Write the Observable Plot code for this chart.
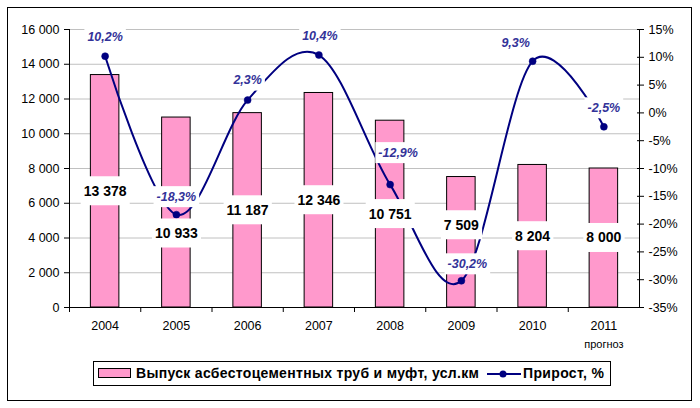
<!DOCTYPE html>
<html>
<head>
<meta charset="utf-8">
<script src="https://cdn.jsdelivr.net/npm/d3@7"></script>
<script src="https://cdn.jsdelivr.net/npm/@observablehq/plot@0.6"></script>
<style>
  body { margin: 0; background: #fff; }
  #wrap { position: relative; width: 700px; height: 408px; background: #fff;
          font-family: "Liberation Sans", Arial, sans-serif; }
  #wrap svg { position: absolute; left: 0; top: 0; }
  #frame { position: absolute; left: 7px; top: 7px; width: 685px; height: 394px;
           border: 1px solid #000; box-sizing: border-box; pointer-events: none; }
  #legend { position: absolute; left: 93px; top: 361px; width: 518px; height: 25px;
            border: 1px solid #000; box-sizing: border-box; background: #fff;
            font-weight: bold; font-size: 14px; color: #000; white-space: nowrap; }
  #legend .sw { position: absolute; left: 4px; top: 6px; width: 33px; height: 10px;
                box-sizing: border-box; border: 1px solid #000; background: #ff99cc; }
  #legend .t1 { position: absolute; left: 42px; top: 3px; }
  #legend svg.ls { position: absolute; left: 393px; top: 5px; }
  #legend .t2 { position: absolute; left: 429px; top: 3px; }
</style>
</head>
<body>
<div id="wrap"><div id="frame"></div></div>
<script>
// ---- data ----
const years = ["2004", "2005", "2006", "2007", "2008", "2009", "2010", "2011"];
const output = [13378, 10933, 11187, 12346, 10751, 7509, 8204, 8000];
const growth = [10.2, -18.3, 2.3, 10.4, -12.9, -30.2, 9.3, -2.5];
const leftTicks = [0, 2000, 4000, 6000, 8000, 10000, 12000, 14000, 16000];
const rightTicks = [-35, -30, -25, -20, -15, -10, -5, 0, 5, 10, 15];
const seriesNames = ["Выпуск асбестоцементных труб и муфт, усл.км", "Прирост, %"];
const forecastNote = "прогноз";

// ---- layout ----
const W = 700, H = 408;
const mL = 69, mR = 61, mT = 29, mB = 101;
const step = (W - mL - mR) / years.length;
const yMax = 16000, pMin = -35, pMax = 15;
const toY = p => (p - pMin) / (pMax - pMin) * yMax;
const fromY = v => Math.round(v / yMax * (pMax - pMin) + pMin);
const fmtK = v => d3.format(",")(v).replace(/,/g, "\u00a0");
const fmtPct = p => p.toFixed(1).replace(".", ",") + "%";

const rows = years.map((year, i) => ({ i, year, value: output[i], growth: growth[i], gy: toY(growth[i]) }));

// label nudges (pixels)
const barLabelDy = [0, 21, 0, 0, 0, -17, 0, 0];
const pctLabelOff = [[0, -19], [0, -18], [0, -20], [1, -19], [8, -32], [6, -17], [-17, -18], [0, -19]];

const font = "Liberation Sans, Arial, sans-serif";
const navy = "#000080";

const marks = [
  Plot.ruleY(leftTicks.filter(v => v > 0), { stroke: "#c0c0c0", strokeWidth: 1 }),
  Plot.barY(rows, { x: "year", y: "value", fill: "#ff99cc", stroke: "#000", strokeWidth: 1 }),
  Plot.ruleY([0], { stroke: "#000" }),
  Plot.ruleX([years[0]], { x: d => d, dx: -step / 2, y1: 0, y2: yMax, stroke: "#000" }),
  Plot.ruleX([years[years.length - 1]], { x: d => d, dx: step / 2, y1: 0, y2: yMax, stroke: "#000" }),
  Plot.ruleX(years, { x: d => d, dx: -step / 2, y1: 0, y2: -5 / 278 * yMax, stroke: "#000" }),
  Plot.axisY({ ticks: leftTicks, tickFormat: fmtK, tickSize: 5, tickPadding: 5, fontSize: 12.5, label: null }),
  Plot.axisY({ anchor: "right", ticks: rightTicks.map(toY), tickFormat: v => fromY(v) + "%",
               tickSize: 4, tickPadding: 5, fontSize: 12.5, label: null }),
  Plot.axisY({ anchor: "right", ticks: rightTicks.map(toY), tickFormat: () => "",
               tickSize: -3, label: null }),
  Plot.axisX({ tickSize: 0, tickPadding: 14, fontSize: 12.5, label: null }),
  Plot.text([forecastNote], { x: () => years[years.length - 1], y: () => 0, text: d => d, dy: 37, fontSize: 11 }),
  Plot.line(rows, { x: "year", y: "gy", curve: "cardinal", tension: 0, stroke: navy, strokeWidth: 2 }),
  Plot.dot(rows, { x: "year", y: "gy", r: 3.5, fill: navy, stroke: navy, strokeWidth: 0.5 }),
  ...rows.map(r => Plot.text([r], {
    x: "year", y: d => d.value / 2, text: d => fmtK(d.value), dy: barLabelDy[r.i],
    fontSize: 14, fontWeight: "bold", fill: "#000"
  })),
  ...rows.map(r => Plot.text([r], {
    x: "year", y: "gy", text: d => fmtPct(d.growth), dx: pctLabelOff[r.i][0], dy: pctLabelOff[r.i][1],
    fontSize: 12.5, fontWeight: "bold", fontStyle: "italic", fill: "#333399"
  }))
];

const svg = Plot.plot({
  width: W, height: H,
  marginLeft: mL, marginRight: mR, marginTop: mT, marginBottom: mB,
  style: { fontFamily: font, fontSize: "12.5px", background: "transparent", overflow: "visible", color: "#000" },
  x: { type: "band", domain: years, paddingInner: 0.6, paddingOuter: 0.3, round: false, axis: null },
  y: { domain: [0, yMax], axis: null },
  marks
});
const wrap = document.getElementById("wrap");
wrap.insertBefore(svg, wrap.firstChild);

// white boxes behind the bold data labels
const NS = "http://www.w3.org/2000/svg";
svg.querySelectorAll("text").forEach(t => {
  const cs = getComputedStyle(t);
  const bold = cs.fontWeight === "700" || cs.fontWeight === "bold";
  if (!bold) return;
  const italic = cs.fontStyle === "italic";
  const px = 3, py = italic ? 3.5 : 6.5;
  const b = t.getBBox();
  const r = document.createElementNS(NS, "rect");
  r.setAttribute("x", b.x - px);
  r.setAttribute("y", b.y - py);
  r.setAttribute("width", b.width + 2 * px);
  r.setAttribute("height", b.height + 2 * py);
  r.setAttribute("fill", "#fff");
  const tr = t.getAttribute("transform");
  if (tr) r.setAttribute("transform", tr);
  t.parentNode.insertBefore(r, t);
});

// legend
const lg = document.createElement("div");
lg.id = "legend";
lg.innerHTML = `<div class="sw"></div><span class="t1"></span>
  <svg class="ls" width="34" height="14"><line x1="0" y1="7" x2="34" y2="7" stroke="${navy}" stroke-width="2"/><circle cx="16" cy="7" r="3.5" fill="${navy}"/></svg>
  <span class="t2"></span>`;
wrap.appendChild(lg);
// fit each legend label to the width it takes in the reference
[[".t1", seriesNames[0], 343], [".t2", seriesNames[1], 81]].forEach(([sel, txt, target]) => {
  const s = lg.querySelector(sel);
  s.textContent = txt;
  const w = s.getBoundingClientRect().width;
  const ls = (target - w) / Math.max(1, txt.length - 1);
  s.style.letterSpacing = ls.toFixed(2) + "px";
});
</script>
</body>
</html>
